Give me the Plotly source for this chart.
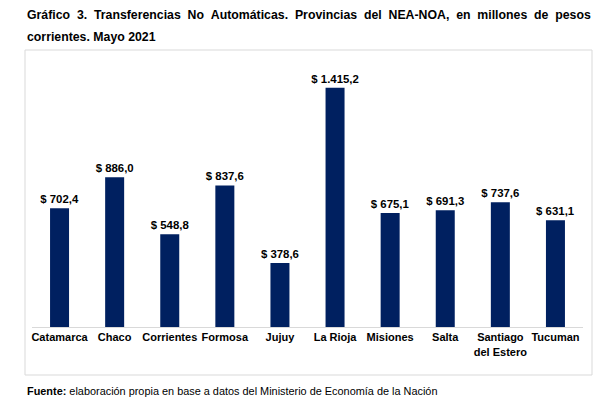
"""Gráfico 3: Transferencias No Automáticas, provincias del NEA-NOA (Mayo 2021)."""

import plotly.graph_objects as go

provincias = ["Catamarca", "Chaco", "Corrientes", "Formosa", "Jujuy", "La Rioja",
              "Misiones", "Salta", "Santiago<br>del Estero", "Tucuman"]
montos = [702.4, 886.0, 548.8, 837.6, 378.6, 1415.2, 675.1, 691.3, 737.6, 631.1]

titulo_1 = "Gráfico 3. Transferencias No Automáticas. Provincias del NEA-NOA, en millones de pesos"
titulo_2 = "corrientes. Mayo 2021"
fuente = "elaboración propia en base a datos del Ministerio de Economía de la Nación"

# the page body has an 8px margin, so the figure is drawn 8px in from the corner
OFF = 8
W, H = 597, 400
L, R, T, B = 24, 22, 52, 81
pw, ph = W - L - R, H - T - B


def px(x):
    return (x - OFF - L) / pw


def py(y):
    return (H - B - (y - OFF)) / ph


labels = ["<b>$ " + f"{v:,.1f}".replace(",", "X").replace(".", ",").replace("X", ".") + "</b>" for v in montos]

fig = go.Figure(go.Bar(
    x=provincias, y=montos, width=0.345,
    marker=dict(color="#002060", line=dict(width=0)),
    text=labels, textposition="outside", cliponaxis=False, constraintext="none",
    textfont=dict(family="Liberation Sans, Arial", size=11.4, color="#000000"),
    hoverinfo="x+y",
))

fig.add_shape(type="rect", xref="paper", yref="paper",
              x0=px(25), x1=px(592), y0=py(375), y1=py(50),
              line=dict(color="#d9d9d9", width=1), layer="below")

# first title line is justified in the original: widen the word gaps
fig.add_annotation(text="<b>" + " &nbsp;".join(titulo_1.split(" ")) + "</b>",
                   xref="paper", yref="paper", x=px(25), y=py(15), xanchor="left", yanchor="middle",
                   showarrow=False, font=dict(family="Liberation Sans, Arial", size=12.3, color="#000000"))
fig.add_annotation(text="<b>" + titulo_2 + "</b>",
                   xref="paper", yref="paper", x=px(25), y=py(37), xanchor="left", yanchor="middle",
                   showarrow=False, font=dict(family="Liberation Sans, Arial", size=12.3, color="#000000"))
fig.add_annotation(text="<b>Fuente:</b> " + fuente,
                   xref="paper", yref="paper", x=px(25), y=py(391), xanchor="left", yanchor="middle",
                   showarrow=False, font=dict(family="Liberation Sans, Arial", size=10.9, color="#000000"))

fig.update_layout(
    width=W, height=H, margin=dict(l=L, r=R, t=T, b=B),
    paper_bgcolor="white", plot_bgcolor="white", showlegend=False,
    bargap=0.655,
    font=dict(family="Liberation Sans, Arial", color="#000000"),
    xaxis=dict(showline=True, linecolor="#d9d9d9", linewidth=1, ticks="",
               tickfont=dict(size=11, color="#000000", weight="bold"), fixedrange=True),
    yaxis=dict(range=[0, 1580], visible=False, showgrid=False, fixedrange=True),
)

fig.write_html("out.html")
